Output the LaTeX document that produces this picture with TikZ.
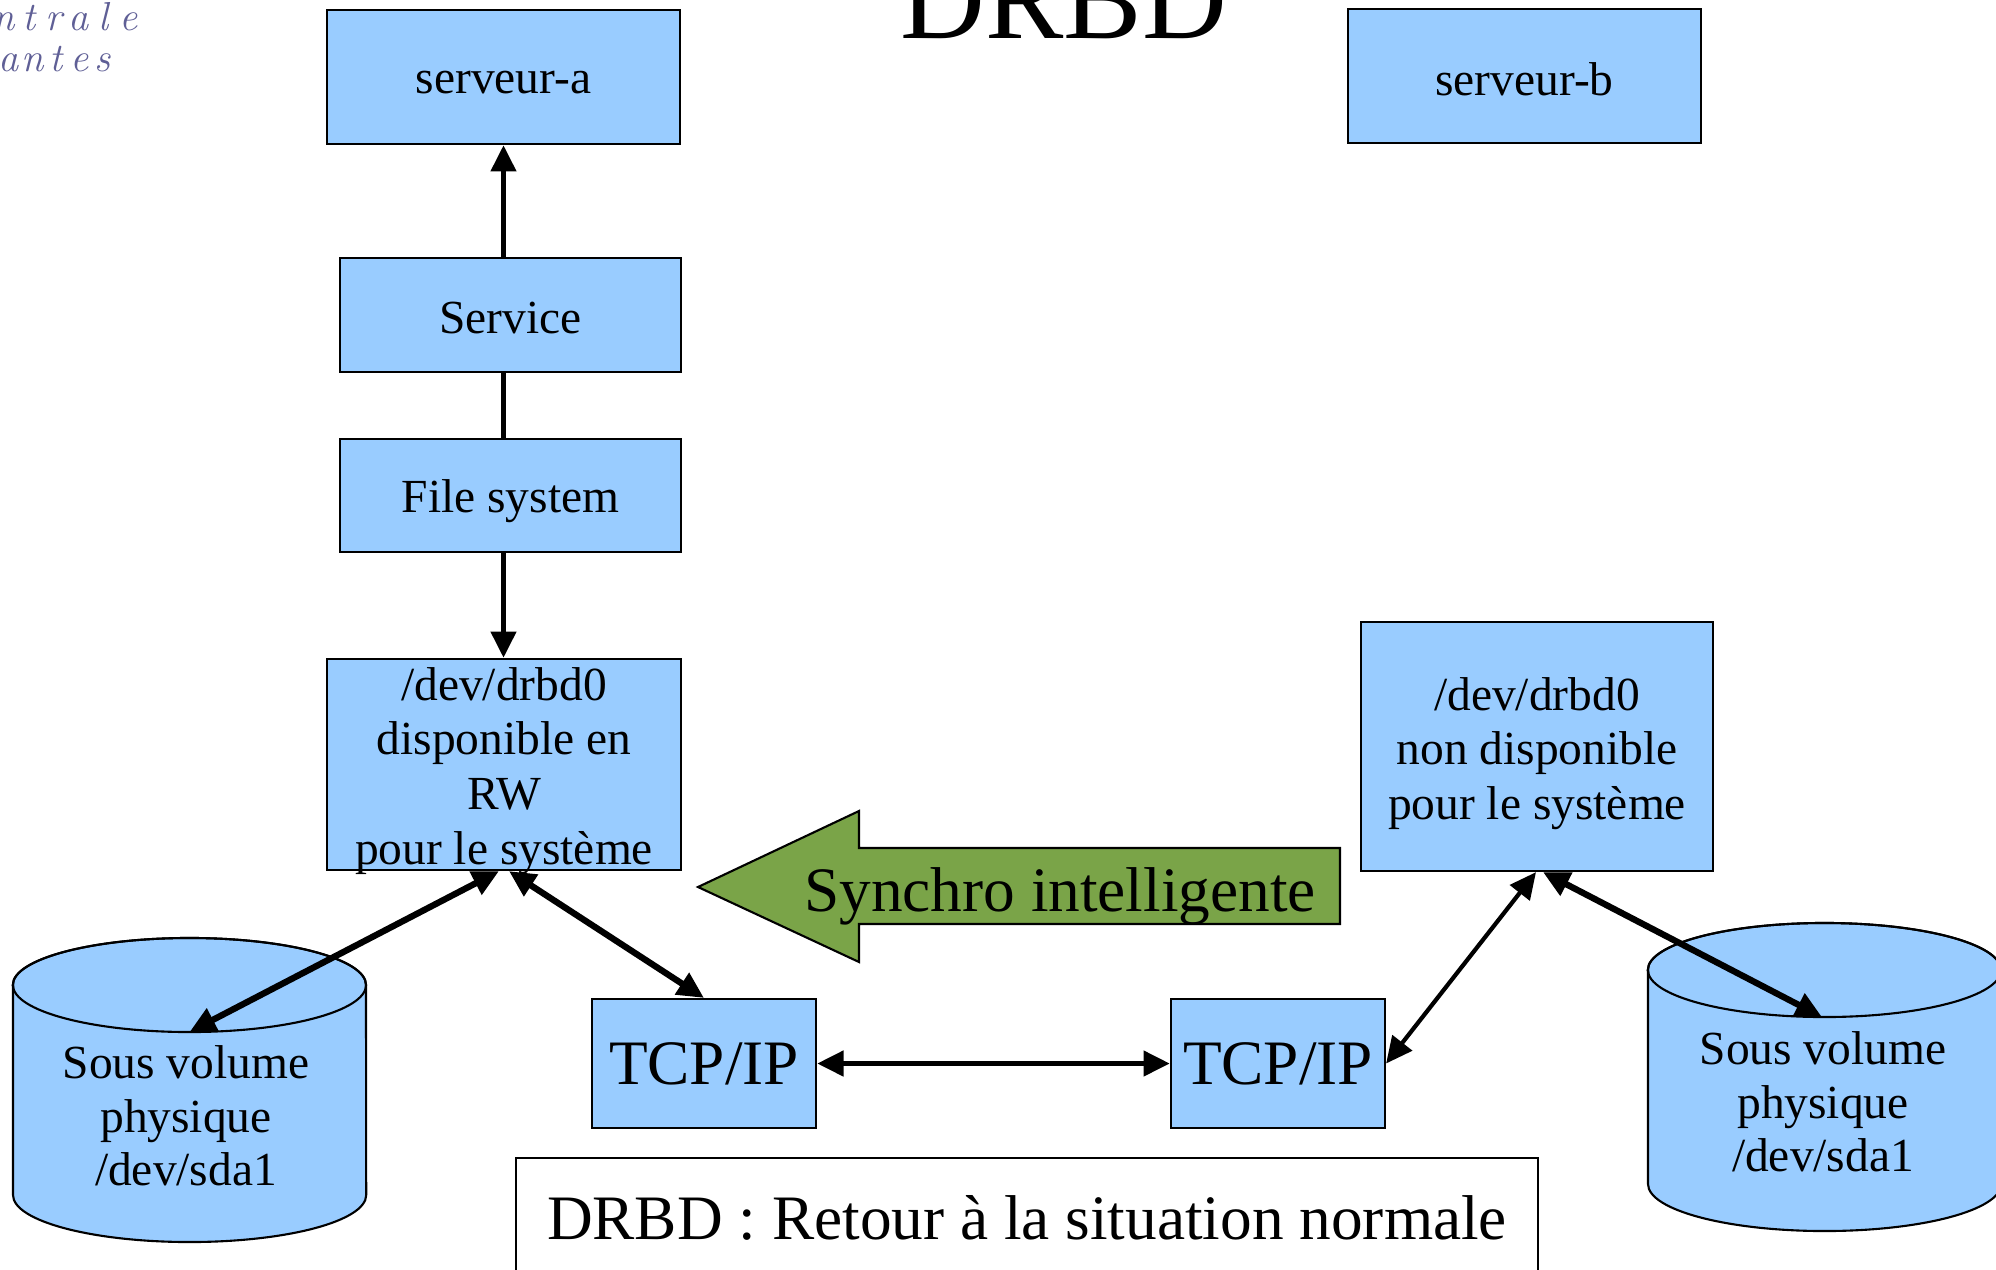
\documentclass[tikz,border=0pt]{standalone}
\usepackage{fontspec}
\usetikzlibrary{arrows.meta,calc}
\newfontfamily\tms{Liberation Serif}
\definecolor{boxblue}{RGB}{153,204,255}
\definecolor{syncgreen}{RGB}{122,164,72}
\definecolor{logocol}{RGB}{95,95,150}
% letters of the logo set on a fixed pitch
\newcommand\pa[1]{\makebox[0.25cm][c]{#1}}
\newcommand\pb[1]{\makebox[0.235cm][c]{#1}}
\begin{document}
\begin{tikzpicture}[x=0.01cm,y=-0.01cm,
  >={Triangle[length=7.5pt,width=7pt]},
  box/.style={draw=black,line width=0.6pt,fill=boxblue,inner sep=0pt},
  boxtext/.style={inner sep=0pt,align=center,font=\tms\fontsize{13.5}{15.6}\selectfont},
  bigtext/.style={inner sep=0pt,font=\tms\fontsize{18}{21}\selectfont},
  logo/.style={anchor=base west,text=logocol,inner sep=0pt,font=\itshape\fontsize{11.5}{14}\selectfont},
  conn/.style={line width=1.6pt,draw=black},
  cylpath/.style={draw=black,line width=0.6pt,fill=boxblue}]
\useasboundingbox (0,0) rectangle (1996,1269);
\fill[white] (0,0) rectangle (1996,1269);

% logo fragment, top left
\node[logo] (logoA) at (-9.5,30) {\pa{n}\pa{t}\pa{r}\pa{a}\pa{l}\pa{e}};
\node[logo] (logoB) at (-3.75,71) {\pb{a}\pb{n}\pb{t}\pb{e}\pb{s}};

% title
\node[anchor=base,inner sep=0pt,font=\tms\fontsize{33.4}{38}\selectfont] (title) at (1064,38) {DRBD};

% servers
\node[box,minimum width=3.53cm,minimum height=1.34cm] (sa) at (503.5,77) {};
\node[boxtext] (saT) at ($(sa)+(0,6)$) {serveur-a};
\node[box,minimum width=3.53cm,minimum height=1.34cm] (sb) at (1524.5,76) {};
\node[boxtext] (sbT) at ($(sb)+(0,3)$) {serveur-b};

% stack on serveur-a
\node[box,minimum width=3.41cm,minimum height=1.14cm] (svc) at (510.5,315) {};
\node[boxtext] (svcT) at ($(svc)+(0,3)$) {Service};
\node[box,minimum width=3.41cm,minimum height=1.13cm] (fs) at (510.5,495.5) {};
\node[boxtext] (fsT) at ($(fs)+(0,6)$) {File system};
\node[box,minimum width=3.54cm,minimum height=2.11cm] (dl) at (504,764.5) {};
\node[boxtext] (dlT) at ($(dl)+(0,6.5)$) {/dev/drbd0\\disponible en\\RW\\pour le système};
\node[box,minimum width=3.52cm,minimum height=2.49cm] (dr) at (1537,746.5) {};
\node[boxtext] (drT) at ($(dr)+(0,7)$) {/dev/drbd0\\non disponible\\pour le système};

% network layers
\node[box,minimum width=2.24cm,minimum height=1.29cm] (tl) at (704,1063.5) {};
\node[bigtext] (tlT) at (tl) {TCP/IP};
\node[box,minimum width=2.14cm,minimum height=1.29cm] (tr) at (1278,1063.5) {};
\node[bigtext] (trT) at (tr) {TCP/IP};

% physical volumes (cylinders)
\path[cylpath] (13,985) -- (13,1195)
  arc[start angle=180,end angle=360,x radius=1.765cm,y radius=0.47cm]
  -- (366,985)
  arc[start angle=0,end angle=180,x radius=1.765cm,y radius=0.47cm] -- cycle;
\draw[line width=0.6pt] (189.5,985) ellipse [x radius=1.765cm,y radius=0.47cm];
\coordinate (cylLtop) at (189.5,1032);
\node[boxtext,font=\tms\fontsize{13.5}{15.2}\selectfont] (cylL) at (186,1116)
  {Sous volume\\physique\\/dev/sda1};

\path[cylpath] (1648,970) -- (1648,1184)
  arc[start angle=180,end angle=360,x radius=1.765cm,y radius=0.47cm]
  -- (2001,970)
  arc[start angle=0,end angle=180,x radius=1.765cm,y radius=0.47cm] -- cycle;
\draw[line width=0.6pt] (1824.5,970) ellipse [x radius=1.765cm,y radius=0.47cm];
\coordinate (cylRtop) at (1822,1017);
\node[boxtext,font=\tms\fontsize{13.5}{15.2}\selectfont] (cylR) at (1823,1102)
  {Sous volume\\physique\\/dev/sda1};

% synchronisation arrow
\path[draw=black,line width=0.6pt,fill=syncgreen]
  (698,887) -- (859,811) -- (859,848) -- (1340,848) -- (1340,924)
  -- (859,924) -- (859,962) -- cycle;
\node[bigtext] (sync) at (1060,896) {Synchro intelligente};

% caption
\draw[line width=0.6pt] (516,1300) -- (516,1158) -- (1538,1158) -- (1538,1300);
\node[bigtext] (caption) at (1027,1218) {DRBD : Retour à la situation normale};

% connectors
\draw[conn,->] (svc.north -| sa.south) -- (sa.south);
\draw[conn] (svc.south -| sa.south) -- (fs.north -| sa.south);
\draw[conn,->] (fs.south -| sa.south) -- (dl.north -| sa.south);
\draw[conn,line width=1.8pt,<->] ($(dl.south)+(-5,0)$) -- (cylLtop);
\draw[conn,line width=1.8pt,<->] ($(dl.south)+(5,0)$) -- (tl.north);
\draw[conn,<->] (tl.east) -- (tr.west);
\draw[conn,line width=1.2pt,<->] (tr.east) -- ($(dr.south)+(-1,0)$);
\draw[conn,line width=1.8pt,<->] ($(dr.south)+(6,0)$) -- (cylRtop);
\end{tikzpicture}
\end{document}
